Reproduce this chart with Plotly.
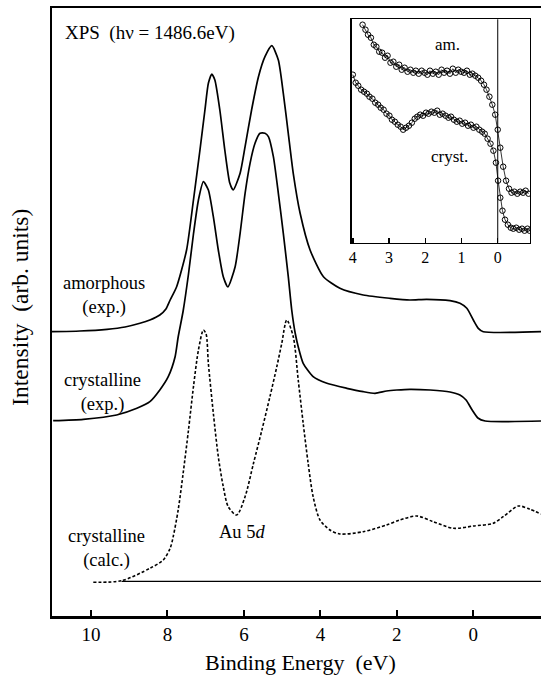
import plotly.graph_objects as go

# ---------------- main panel data (binding energy in eV, intensity arb. units) ----------------
amor_E = [11.02, 10.29, 9.58, 9.11, 8.72, 8.46, 8.20, 8.04, 7.93, 7.76, 7.50, 7.32, 7.15, 7.02,
          6.93, 6.84, 6.76, 6.63, 6.50, 6.37, 6.28, 6.10, 5.97, 5.80, 5.62, 5.45, 5.27, 5.10,
          4.97, 4.84, 4.71, 4.53, 4.27, 3.92, 3.49, 2.88, 2.18, 1.66, 1.22, 0.61, 0.35, 0.17,
          0.00, -0.13, -0.26, -1.77]
amor_I = [284.3, 285, 286.7, 289, 292.7, 296, 301, 307, 316, 329.3, 366, 416, 466, 506,
          532.7, 542, 536, 506, 466, 433, 426, 442.7, 469.3, 506, 539.3, 559.3, 570.3, 556,
          522.7, 482.7, 442.7, 402.7, 366, 339.3, 327.7, 321, 317.7, 316, 316.7, 315.3, 312.7, 307.7,
          296, 287.7, 284.3, 284.3]

cryst_E = [10.99, 10.20, 9.33, 8.80, 8.46, 8.20, 7.98, 7.80, 7.72, 7.59, 7.45, 7.32, 7.19, 7.06,
           6.93, 6.80, 6.67, 6.54, 6.42, 6.23, 6.10, 5.97, 5.84, 5.71, 5.58, 5.45, 5.36, 5.23,
           5.10, 4.97, 4.84, 4.75, 4.66, 4.58, 4.45, 4.19, 3.83, 3.31, 2.88, 2.57, 2.27, 2.00,
           1.66, 1.13, 0.61, 0.35, 0.19, 0.03, -0.12, -0.31, -1.77]
cryst_I = [195.3, 196.7, 201, 207.7, 214.3, 226, 239.3, 259.3, 279, 305, 342, 382, 416, 434.3,
           426, 399.3, 366, 339.3, 329, 349.3, 382.7, 422.7, 452.7, 472.7, 482.7, 482.7, 479.3, 459.3,
           422.7, 382.7, 339.3, 306, 283, 269.3, 252.7, 239.3, 232.7, 227.7, 224.3, 222.7, 225, 226,
           226.7, 226, 224, 221, 216, 206, 198, 195, 195]

calc_E = [9.94, 9.20, 8.46, 8.11, 7.93, 7.85, 7.72, 7.59, 7.45, 7.32, 7.19, 7.06, 6.99, 6.93,
          6.80, 6.67, 6.54, 6.41, 6.19, 5.97, 5.75, 5.53, 5.32, 5.14, 5.01, 4.88, 4.71, 4.58,
          4.45, 4.32, 4.19, 4.01, 3.75, 3.49, 2.88, 2.27, 1.92, 1.48, 1.05, 0.52, 0.00, -0.52,
          -0.78, -1.18, -1.48, -1.77]
calc_I = [33.7, 35.3, 47.7, 56, 67.7, 79.3, 106, 142.7, 186, 229.3, 266, 286, 282, 252.7,
          202.7, 159.3, 129.3, 109.3, 101, 119.3, 152.7, 186, 219.3, 249.3, 272.7, 296, 279.3, 236,
          192.7, 152.7, 119.3, 96, 86, 82, 84.3, 91, 96, 100, 94.3, 87.7, 90, 92.7,
          99.3, 110, 106.7, 102]

calc_base_E = [9.20, -1.77]
calc_base_I = [34.7, 34.7]

main_ticks = [10, 8, 6, 4, 2, 0]

# ---------------- inset data ----------------
in_am_E = [3.73, 3.65, 3.58, 3.50, 3.42, 3.35, 3.27, 3.19, 3.11, 3.04, 2.96, 2.88, 2.80, 2.72,
           2.65, 2.57, 2.49, 2.41, 2.33, 2.26, 2.18, 2.10, 2.02, 1.94, 1.87, 1.79, 1.71, 1.63,
           1.55, 1.48, 1.40, 1.32, 1.24, 1.16, 1.09, 1.01, 0.93, 0.85, 0.77, 0.70, 0.62, 0.54,
           0.46, 0.38, 0.31, 0.23, 0.15, 0.07, 0.00, -0.07, -0.15, -0.23, -0.31, -0.38, -0.46,
           -0.54, -0.62, -0.70, -0.77, -0.85]
in_am_I = [218, 213, 208, 205, 198, 196, 191, 190, 185, 187, 180, 181, 176, 178,
           173, 175, 171, 173, 170, 172, 169, 172, 170, 168, 172, 169, 171, 168,
           173, 170, 172, 169, 174, 170, 173, 171, 170, 172, 168, 169, 167, 165,
           162, 158, 153, 146, 138, 128, 113, 95, 76, 62, 54, 50, 51,
           49, 51, 50, 52, 49]

in_cr_E = [4.00, 3.92, 3.85, 3.77, 3.69, 3.61, 3.54, 3.46, 3.38, 3.30, 3.23, 3.15, 3.07, 2.99,
           2.92, 2.84, 2.76, 2.68, 2.61, 2.53, 2.45, 2.37, 2.29, 2.22, 2.14, 2.06, 1.98, 1.91,
           1.83, 1.75, 1.67, 1.60, 1.52, 1.44, 1.36, 1.29, 1.21, 1.13, 1.05, 0.98, 0.90, 0.82,
           0.74, 0.67, 0.59, 0.51, 0.43, 0.36, 0.28, 0.20, 0.12, 0.05, -0.01, -0.07, -0.13,
           -0.20, -0.28, -0.36, -0.43, -0.51, -0.59, -0.67, -0.74, -0.82, -0.88]
in_cr_I = [168, 160, 157, 153, 151, 149, 146, 144, 140, 138, 135, 133, 129, 127,
           123, 121, 118, 116, 113, 115, 117, 120, 124, 126, 128, 127, 130, 129,
           131, 130, 132, 128, 129, 127, 125, 126, 123, 121, 122, 119, 120, 117,
           118, 115, 116, 113, 111, 109, 104, 99, 92, 80, 62, 45, 32,
           23, 18, 15, 14, 15, 13, 14, 12, 14, 12]

inset_ticks = [4, 3, 2, 1, 0]

FONT = "Liberation Serif, Times New Roman, serif"

fig = go.Figure()

line_style = dict(color="black", width=1.7, shape="spline", smoothing=0.6)
fig.add_trace(go.Scatter(x=amor_E, y=amor_I, mode="lines", line=line_style,
                         xaxis="x", yaxis="y", showlegend=False, hoverinfo="skip"))
fig.add_trace(go.Scatter(x=cryst_E, y=cryst_I, mode="lines", line=line_style,
                         xaxis="x", yaxis="y", showlegend=False, hoverinfo="skip"))
fig.add_trace(go.Scatter(x=calc_E, y=calc_I, mode="lines",
                         line=dict(color="black", width=1.6, dash="3px,2px", shape="spline", smoothing=0.8),
                         xaxis="x", yaxis="y", showlegend=False, hoverinfo="skip"))
fig.add_trace(go.Scatter(x=calc_base_E, y=calc_base_I, mode="lines",
                         line=dict(color="black", width=1.2),
                         xaxis="x", yaxis="y", showlegend=False, hoverinfo="skip"))

marker_style = dict(symbol="circle-open", size=5.5, color="black", line=dict(width=1, color="black"))
fig.add_trace(go.Scatter(x=in_am_E, y=in_am_I, mode="lines+markers",
                         line=dict(color="black", width=0.8), marker=marker_style,
                         xaxis="x2", yaxis="y2", showlegend=False, hoverinfo="skip"))
fig.add_trace(go.Scatter(x=in_cr_E, y=in_cr_I, mode="lines+markers",
                         line=dict(color="black", width=0.8), marker=marker_style,
                         xaxis="x2", yaxis="y2", showlegend=False, hoverinfo="skip"))

fig.update_layout(
    width=541, height=679,
    margin=dict(l=52, r=0, t=8, b=63),
    paper_bgcolor="white", plot_bgcolor="white",
    font=dict(family=FONT, color="black", size=18),
    xaxis=dict(range=[11.02, -1.77], domain=[0, 1], showline=True, linewidth=2.5,
               linecolor="black", mirror=True, ticks="inside", ticklen=6, tickwidth=2,
               tickcolor="black", tickvals=main_ticks, ticktext=[str(t) for t in main_ticks],
               showgrid=False, zeroline=False, tickfont=dict(size=19, family=FONT)),
    yaxis=dict(range=[0, 608], domain=[0, 1], showline=True, linewidth=2.5, linecolor="black",
               mirror=False, ticks="", showticklabels=False, showgrid=False, zeroline=False),
    xaxis2=dict(range=[4.03, -0.89], domain=[0.6129, 0.9775], anchor="y2", showline=True,
                linewidth=1.5, linecolor="black", mirror=True, ticks="inside", ticklen=5,
                tickwidth=1.5, tickcolor="black", tickvals=inset_ticks,
                ticktext=[str(t) for t in inset_ticks], showgrid=False, zeroline=False,
                tickfont=dict(size=16, family=FONT)),
    yaxis2=dict(range=[0, 223.4], domain=[0.614, 0.9814], anchor="x2", showline=True,
                linewidth=1.5, linecolor="black", mirror=True, ticks="", showticklabels=False,
                showgrid=False, zeroline=False),
)

fig.add_shape(type="line", xref="x2", yref="y2 domain", x0=0, x1=0, y0=0, y1=1,
              line=dict(color="black", width=1))

def ann(text, x, y, size=18, xref="x", yref="y", xanchor="center", angle=0):
    fig.add_annotation(text=text, x=x, y=y, xref=xref, yref=yref, showarrow=False,
                       xanchor=xanchor, yanchor="middle", textangle=angle, align="center",
                       font=dict(size=size, family=FONT, color="black"))

ann("XPS  (hν = 1486.6eV)", 10.74, 583, size=19, xanchor="left")
ann("amorphous<br>(exp.)", 9.65, 321, size=18.5)
ann("crystalline<br>(exp.)", 9.70, 224, size=18.5)
ann("crystalline<br>(calc.)", 9.60, 67.5, size=18.5)
ann("Au 5<i>d</i>", 6.05, 84, size=18.5)
ann("am.", 1.40, 198, size=17, xref="x2", yref="y2")
ann("cryst.", 1.32, 86, size=17, xref="x2", yref="y2")
ann("Binding Energy  (eV)", 0.509, -0.0757, size=22, xref="paper", yref="paper")
ann("Intensity  (arb. units)", -0.0654, 0.507, size=23.5, xref="paper", yref="paper", angle=-90)

fig.write_html("out.html", config={"displayModeBar": False, "staticPlot": True},
               post_script="document.body.style.margin='0px';document.body.style.overflow='hidden';")
